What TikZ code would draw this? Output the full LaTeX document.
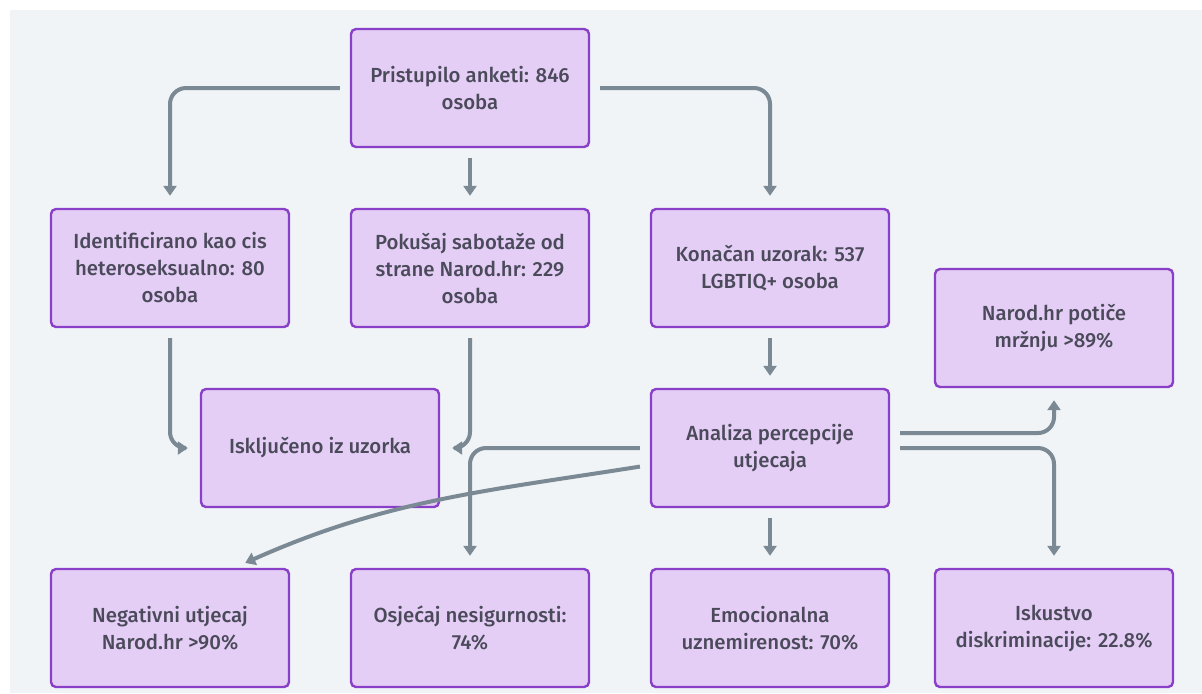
\documentclass[tikz,border=0pt]{standalone}
\usepackage{fontspec}
\setmainfont{Fira Sans Medium}
\usetikzlibrary{arrows.meta}
\definecolor{panel}{HTML}{F0F4F7}
\definecolor{boxfill}{HTML}{E5CEF5}
\definecolor{boxline}{HTML}{8A3FC8}
\definecolor{linegray}{HTML}{7A8994}
\definecolor{txt}{HTML}{4A4A5A}
\tikzset{
  stage/.style={draw=boxline, fill=boxfill, line width=1.2pt, rounded corners=2.5pt,
    minimum width=119pt, minimum height=59pt, align=center, text=txt,
    font=\fontsize{10.2}{13.5}\selectfont},
  conn/.style={draw=linegray, line width=2pt, rounded corners=8pt,
    -{Triangle[width=6.5pt,length=5pt]}, shorten <=5pt, shorten >=6pt}
}
\begin{document}
\begin{tikzpicture}[x=0.5pt, y=-0.5pt]
  \useasboundingbox (0,0) rectangle (1202,693);
  \fill[white] (0,0) rectangle (1202,693);
  \fill[panel] (10,10) rectangle (1202,693);

  \node[stage] (start) at (470,88) {Pristupilo anketi: 846\\osoba};
  \node[stage] (ident) at (170,268) {Identificirano kao cis\\heteroseksualno: 80\\osoba};
  \node[stage] (sabot) at (470,268) {Pokušaj sabotaže od\\strane Narod.hr: 229\\osoba};
  \node[stage] (final) at (770,268) {Konačan uzorak: 537\\LGBTIQ+ osoba};
  \node[stage] (hate) at (1054,328) {Narod.hr potiče\\mržnju >89\%};
  \node[stage] (excl) at (320,448) {Isključeno iz uzorka};
  \node[stage] (anal) at (770,448) {Analiza percepcije\\utjecaja};
  \node[stage] (neg) at (170,628) {Negativni utjecaj\\Narod.hr >90\%};
  \node[stage] (insec) at (470,628) {Osjećaj nesigurnosti:\\74\%};
  \node[stage] (emo) at (770,628) {Emocionalna\\uznemirenost: 70\%};
  \node[stage] (disc) at (1054,628) {Iskustvo\\diskriminacije: 22.8\%};

  \draw[conn] (start.west) -| (ident.north);
  \draw[conn] (start.south) -- (sabot.north);
  \draw[conn] (start.east) -| (final.north);
  \draw[conn] (ident.south) |- (excl.west);
  \draw[conn] (sabot.south) |- (excl.east);
  \draw[conn] (final.south) -- (anal.north);
  \draw[conn] ([yshift=7.5pt]anal.east) -| (hate.south);
  \draw[conn] (anal.east) -| (disc.north);
  \draw[conn] (anal.west) -| (insec.north);
  \draw[conn] ([yshift=-8.5pt]anal.west) to[out=189, in=24] ([xshift=-28pt]neg.north east);
  \draw[conn] (anal.south) -- (emo.north);
\end{tikzpicture}
\end{document}
